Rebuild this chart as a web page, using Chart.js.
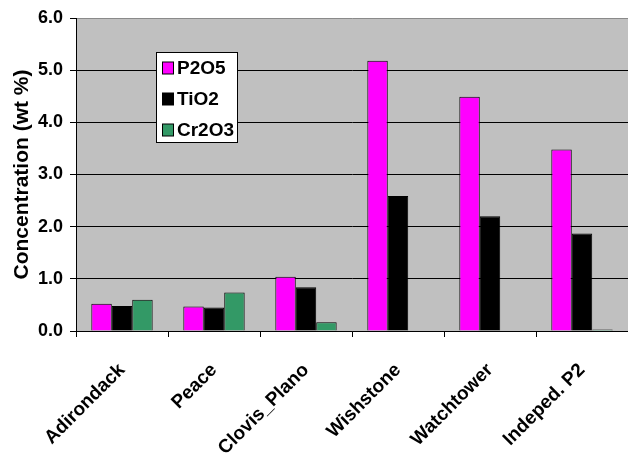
<!DOCTYPE html>
<html>
<head>
<meta charset="utf-8">
<script src="https://cdn.jsdelivr.net/npm/chart.js@4.4.1/dist/chart.umd.min.js"></script>
<style>
  html, body { margin: 0; padding: 0; background: #ffffff; }
  #wrap { width: 628px; height: 460px; }
</style>
</head>
<body>
<div id="wrap"><canvas id="c" width="628" height="460"></canvas></div>
<script>
// Oxide concentrations (wt %) per sample
const categories = ['Adirondack', 'Peace', 'Clovis_Plano', 'Wishstone', 'Watchtower', 'Indeped. P2'];
const p2o5  = [0.52, 0.47, 1.04, 5.18, 4.49, 3.48];
const tio2  = [0.48, 0.45, 0.84, 2.59, 2.20, 1.87];
const cr2o3 = [0.60, 0.74, 0.17, null, null, 0.03];
const seriesNames = ['P2O5', 'TiO2', 'Cr2O3'];
const yTicks = [0, 1, 2, 3, 4, 5, 6];

const FONT = '"Liberation Sans", Arial, sans-serif';

// Grey plot-area fill
const plotBg = {
  id: 'plotBg',
  beforeDraw(chart) {
    const { ctx, chartArea: a } = chart;
    ctx.save();
    ctx.fillStyle = '#C0C0C0';
    ctx.fillRect(a.left, a.top, a.right - a.left, a.bottom - a.top);
    ctx.restore();
  }
};

// Boxed legend floating inside the plot area
const boxLegend = {
  id: 'boxLegend',
  afterDraw(chart) {
    const ctx = chart.ctx;
    const x = 156.5, y = 52.5, w = 81, h = 90;
    ctx.save();
    ctx.fillStyle = '#ffffff';
    ctx.fillRect(x, y, w, h);
    ctx.strokeStyle = '#000000';
    ctx.lineWidth = 1;
    ctx.strokeRect(x, y, w, h);
    ctx.font = 'bold 19px ' + FONT;
    ctx.textBaseline = 'middle';
    ctx.textAlign = 'left';
    chart.data.datasets.forEach((ds, i) => {
      const cy = y + 15.5 + i * 31;
      ctx.fillStyle = ds.backgroundColor;
      ctx.fillRect(162.5, cy - 6, 11, 12);
      ctx.strokeStyle = '#000000';
      ctx.strokeRect(162.5, cy - 6, 11, 12);
      ctx.fillStyle = '#000000';
      ctx.fillText(ds.label, 177, cy + 1);
    });
    ctx.restore();
  }
};

const colors = ['#FF00FF', '#000000', '#339966'];
const seriesData = [p2o5, tio2, cr2o3];

new Chart(document.getElementById('c'), {
  type: 'bar',
  data: {
    labels: categories,
    datasets: seriesNames.map((name, i) => ({
      label: name,
      data: seriesData[i],
      backgroundColor: colors[i],
      borderColor: '#000000',
      borderWidth: 1,
      categoryPercentage: 0.667,
      barPercentage: 1.0
    }))
  },
  options: {
    responsive: false,
    animation: false,
    devicePixelRatio: 1,
    layout: { padding: { top: 18, right: 0, left: 0, bottom: 0 } },
    plugins: {
      legend: { display: false },
      tooltip: { enabled: false }
    },
    scales: {
      x: {
        offset: true,
        grid: {
          offset: true,
          drawOnChartArea: false,
          drawTicks: true,
          tickLength: 6,
          tickColor: '#000000'
        },
        border: { display: true, color: '#000000', width: 1 },
        ticks: {
          color: '#000000',
          font: { family: FONT, size: 19, weight: 'bold' },
          maxRotation: 45,
          minRotation: 45,
          padding: 22,
          autoSkip: false
        },
        afterFit(scale) { scale.height = 129; }
      },
      y: {
        min: 0,
        max: 6,
        afterBuildTicks(scale) { scale.ticks = yTicks.map(v => ({ value: v })); },
        grid: {
          color: ctx => (ctx.tick && ctx.tick.value === 6 ? '#8a8a8a' : '#000000'),
          lineWidth: 1,
          drawTicks: true,
          tickLength: 6,
          tickColor: '#000000'
        },
        border: { display: true, color: '#000000', width: 1 },
        ticks: {
          color: '#000000',
          font: { family: FONT, size: 18, weight: 'bold' },
          padding: 7,
          callback: v => Number(v).toFixed(1)
        },
        title: {
          display: true,
          text: 'Concentration (wt %)',
          color: '#000000',
          font: { family: FONT, size: 21, weight: 'bold' },
          padding: { top: 10, bottom: 0 }
        },
        afterFit(scale) { scale.width = 76; }
      }
    }
  },
  plugins: [plotBg, boxLegend]
});
</script>
</body>
</html>
